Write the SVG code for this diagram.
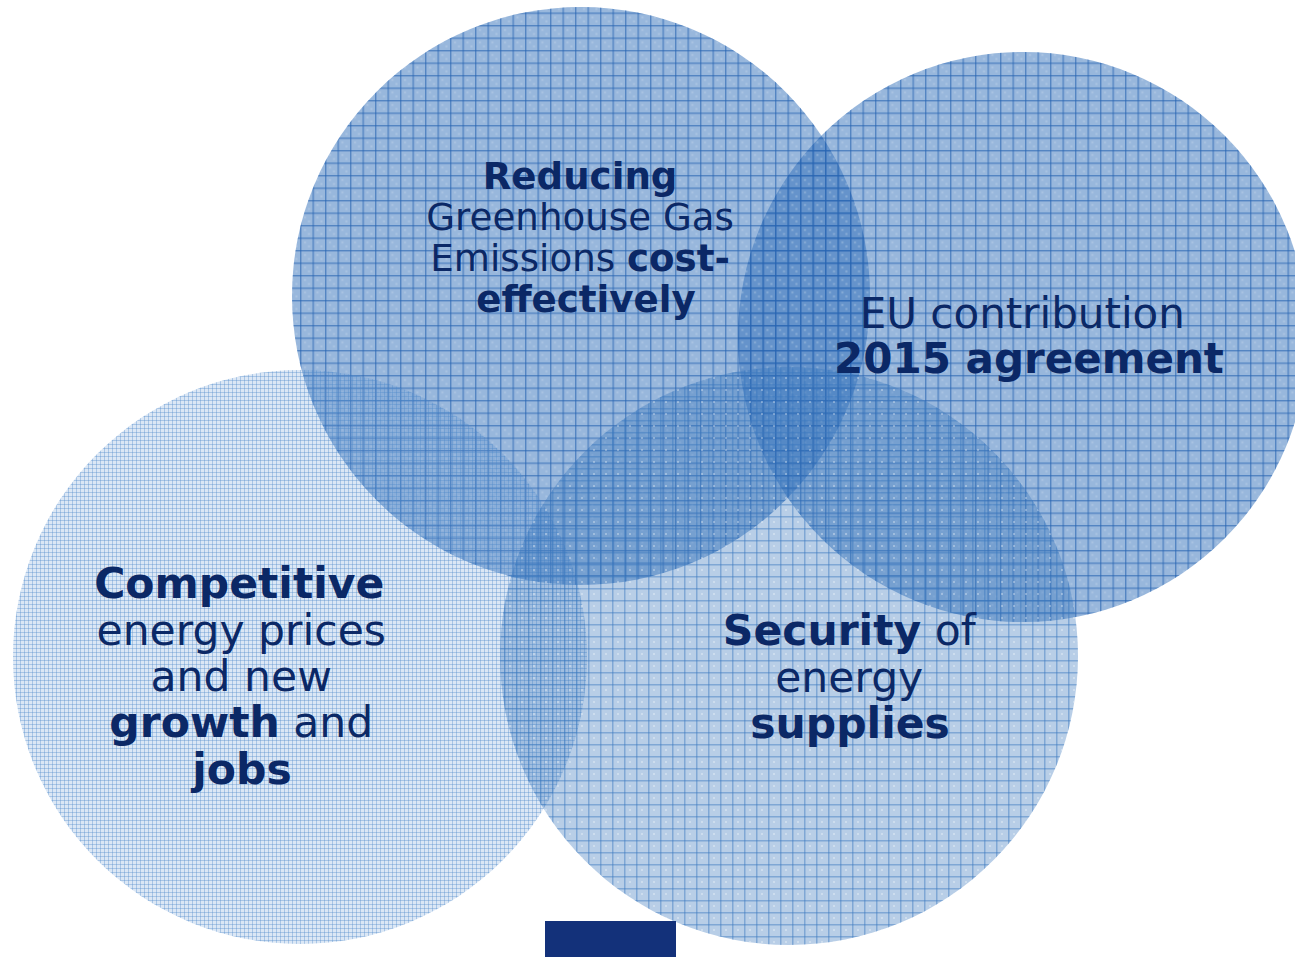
<svg xmlns="http://www.w3.org/2000/svg" width="1295" height="957" viewBox="0 0 1295 957">
  <defs>
    <style>
      .lbl { font-family: "DejaVu Sans", Verdana, sans-serif; fill: #0b2866; text-anchor: middle; }
      .b { font-weight: bold; }
    </style>
    <!-- coarse grid used on the darker circles -->
    <pattern id="gridCoarse" width="12.5" height="12.5" patternUnits="userSpaceOnUse">
      <rect x="0" y="0" width="12.5" height="1.4" fill="#2463b0" fill-opacity="0.6"/>
      <rect x="0" y="0" width="1.4" height="12.5" fill="#2463b0" fill-opacity="0.6"/>
      <rect x="4" y="4" width="2" height="2" fill="#ffffff" fill-opacity="0.18"/>
      <rect x="8" y="8" width="2" height="2" fill="#ffffff" fill-opacity="0.18"/>
    </pattern>
    <!-- medium grid for the lower right circle -->
    <pattern id="gridMed" width="12" height="12" patternUnits="userSpaceOnUse">
      <rect x="0" y="0" width="12" height="1.5" fill="#3a78c0" fill-opacity="0.45"/>
      <rect x="0" y="0" width="1.5" height="12" fill="#3a78c0" fill-opacity="0.45"/>
      <rect x="5" y="5" width="2" height="2" fill="#ffffff" fill-opacity="0.3"/>
    </pattern>
    <!-- fine mesh for the pale left circle -->
    <pattern id="gridFine" width="4" height="4" patternUnits="userSpaceOnUse">
      <rect x="0" y="0" width="4" height="1" fill="#4a86c8" fill-opacity="0.35"/>
      <rect x="0" y="0" width="1" height="4" fill="#4a86c8" fill-opacity="0.35"/>
    </pattern>
  </defs>

  <rect width="1295" height="957" fill="#ffffff"/>

  <g id="circle-climate">
    <circle cx="1023" cy="337" r="285" fill="#3270b9" fill-opacity="0.5"/>
    <circle cx="1023" cy="337" r="285" fill="url(#gridCoarse)"/>
  </g>

  <g id="circle-emissions">
    <circle cx="581" cy="296" r="289" fill="#3270b9" fill-opacity="0.5"/>
    <circle cx="581" cy="296" r="289" fill="url(#gridCoarse)"/>
  </g>

  <g id="circle-competitive">
    <circle cx="300" cy="657" r="287" fill="#5b93d0" fill-opacity="0.22"/>
    <circle cx="300" cy="657" r="287" fill="url(#gridFine)"/>
  </g>

  <g id="circle-security">
    <circle cx="789" cy="656" r="289" fill="#3b76bd" fill-opacity="0.36"/>
    <circle cx="789" cy="656" r="289" fill="url(#gridMed)"/>
  </g>

  <g id="labels">
    <text class="lbl" font-size="37.2">
      <tspan x="586" y="189" class="b">Reducing</tspan>
      <tspan x="586" y="230">Greenhouse Gas</tspan>
      <tspan x="586" y="271">Emissions <tspan class="b">cost-</tspan></tspan>
      <tspan x="586" y="312" class="b">effectively</tspan>
    </text>
    <text class="lbl" font-size="42">
      <tspan x="1029" y="328">EU contribution</tspan>
      <tspan x="1029" y="373" class="b">2015 agreement</tspan>
    </text>
    <text class="lbl" font-size="42.5">
      <tspan x="246" y="598" class="b">Competitive</tspan>
      <tspan x="248" y="645">energy prices</tspan>
      <tspan x="248" y="691">and new</tspan>
      <tspan x="248" y="737"><tspan class="b">growth</tspan> and</tspan>
      <tspan x="242" y="784" class="b">jobs</tspan>
    </text>
    <text class="lbl" font-size="42.5">
      <tspan x="856" y="645"><tspan class="b">Security</tspan> of</tspan>
      <tspan x="856" y="692">energy</tspan>
      <tspan x="850" y="738" class="b">supplies</tspan>
    </text>
  </g>

  <rect id="footer-bar" x="545" y="921" width="131" height="36" fill="#13317a"/>
</svg>
